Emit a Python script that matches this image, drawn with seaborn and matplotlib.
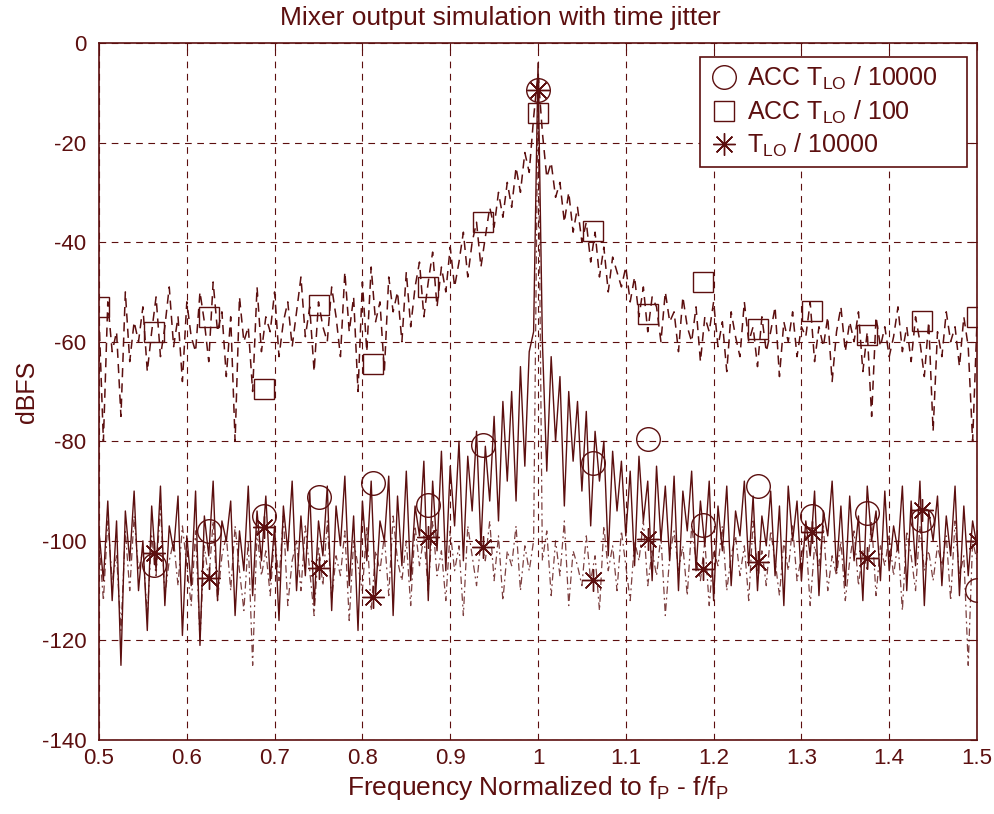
import numpy as np
import seaborn as sns
import matplotlib.pyplot as plt
from matplotlib.lines import Line2D

# frequency grid for the spectra (0.5 .. 1.5, step 0.005)
freq = np.linspace(0.5, 1.5, 201)

# ACC T_LO / 10000 (solid line)
acc_10000 = [
    -98, -108, -92, -112, -96, -125, -94, -104, -90, -110,
    -100, -118, -93, -106, -89, -113, -97, -102, -91, -119,
    -99, -109, -90, -121, -95, -103, -88, -112, -96, -100,
    -92, -115, -98, -106, -89, -111, -94, -104, -91, -108,
    -97, -116, -93, -102, -88, -110, -95, -107, -90, -113,
    -96, -103, -89, -114, -93, -101, -87, -109, -95, -118,
    -92, -104, -88, -111, -96, -100, -87, -115, -91, -105,
    -86, -108, -93, -99, -84, -112, -88, -102, -82, -106,
    -85, -97, -80, -104, -83, -94, -78, -101, -81, -92,
    -75, -96, -72, -88, -70, -92, -65, -85, -62, -58,
    -4,
    -60, -86, -63, -80, -67, -93, -70, -84, -72, -90,
    -74, -97, -78, -88, -80, -103, -82, -94, -84, -99,
    -86, -105, -83, -96, -88, -108, -85, -100, -89, -104,
    -87, -110, -90, -98, -86, -106, -92, -101, -88, -112,
    -93, -102, -89, -109, -94, -99, -88, -105, -91, -110,
    -95, -101, -90, -107, -93, -113, -89, -100, -92, -108,
    -96, -103, -90, -111, -94, -99, -88, -106, -93, -109,
    -91, -104, -95, -112, -89, -100, -94, -108, -90, -106,
    -97, -102, -89, -110, -92, -105, -88, -113, -94, -100,
    -91, -109, -95, -103, -89, -111, -93, -107, -96, -101,
]

# ACC T_LO / 100 (dashed line)
acc_100 = [
    -55, -80, -52, -62, -58, -75, -50, -64, -56, -60,
    -53, -66, -58, -51, -63, -57, -49, -61, -55, -68,
    -52, -59, -62, -50, -56, -64, -48, -58, -54, -67,
    -55, -80, -51, -60, -57, -70, -49, -62, -55, -58,
    -50, -63, -56, -52, -61, -54, -47, -59, -53, -66,
    -52, -57, -60, -49, -55, -63, -46, -58, -51, -70,
    -48, -62, -45, -56, -52, -66, -47, -54, -50, -60,
    -46, -57, -49, -44, -55, -48, -42, -53, -45, -50,
    -41, -49, -44, -38, -47, -40, -36, -45, -39, -33,
    -37, -30, -35, -28, -33, -25, -30, -22, -26, -15,
    -6,
    -18, -27, -24, -31, -28, -36, -30, -38, -33, -40,
    -36, -44, -38, -47, -41, -50, -43, -46, -49, -45,
    -52, -47, -55, -49, -58, -51, -53, -60, -50, -56,
    -54, -62, -51, -57, -60, -53, -64, -55, -58, -52,
    -61, -56, -66, -54, -59, -63, -52, -60, -57, -65,
    -55, -62, -58, -53, -67, -56, -60, -54, -63, -57,
    -59, -52, -64, -57, -61, -55, -68, -58, -53, -62,
    -56, -60, -54, -66, -58, -75, -55, -61, -57, -63,
    -59, -53, -62, -57, -64, -55, -60, -67, -56, -78,
    -58, -63, -54, -60, -57, -65, -55, -61, -80, -56,
]

# T_LO / 10000 (dash-dot line)
tlo_10000 = [
    -100, -112, -96, -108, -103, -118, -98, -110, -95, -106,
    -102, -115, -99, -107, -93, -111, -104, -100, -109, -97,
    -105, -113, -98, -120, -101, -108, -96, -112, -103, -99,
    -110, -97, -106, -114, -100, -125, -98, -107, -102, -111,
    -99, -108, -95, -113, -104, -100, -110, -97, -106, -115,
    -101, -109, -96, -112, -103, -107, -98, -116, -100, -105,
    -110, -97, -114, -102, -106, -99, -111, -95, -104, -108,
    -100, -113, -97, -105, -99, -110, -96, -107, -102, -112,
    -98, -106, -101, -115, -97, -103, -109, -100, -104, -96,
    -108, -99, -112, -102, -105, -97, -110, -101, -106, -100,
    -9,
    -104, -98, -111, -100, -107, -96, -113, -102, -105, -109,
    -99, -108, -103, -114, -97, -106, -101, -110, -98, -105,
    -112, -100, -104, -96, -109, -102, -107, -99, -115, -103,
    -98, -106, -101, -111, -97, -104, -108, -100, -113, -102,
    -105, -97, -110, -103, -99, -107, -101, -112, -96, -106,
    -102, -109, -98, -104, -111, -100, -106, -97, -108, -103,
    -99, -113, -101, -105, -97, -110, -103, -107, -100, -112,
    -104, -98, -109, -102, -106, -96, -111, -101, -105, -99,
    -107, -100, -114, -98, -103, -110, -97, -106, -102, -108,
    -101, -105, -99, -112, -96, -107, -103, -125, -100, -104,
]

# marker samples
sq_x = [0.5, 0.5625, 0.625, 0.6875, 0.75, 0.8125, 0.875, 0.9375, 1.0,
        1.0625, 1.125, 1.1875, 1.25, 1.3125, 1.375, 1.4375, 1.5]
sq_y = [-53, -58, -55, -69.5, -52.6, -64.5, -49, -36, -14,
        -37.7, -54.4, -48, -57.4, -53.8, -58.6, -55.8, -55]
circ_x = sq_x[1:]
circ_y = [-104.8, -98, -95, -91.2, -88.4, -92.8, -80.7, -9.4,
          -84.3, -79.5, -96.8, -89, -95, -94.4, -95.8, -109.8]
ast_x = sq_x[1:]
ast_y = [-102.4, -107.5, -97.2, -105.4, -111.2, -99.2, -101.2, -9.4,
         -107.8, -99.6, -105.6, -104.2, -98.2, -103.4, -93.8, -100]

col = '#5c0f0f'
sns.set_style('white')
plt.rcParams['font.family'] = ['Liberation Sans', 'DejaVu Sans']
plt.rcParams['mathtext.fontset'] = 'custom'
plt.rcParams['mathtext.rm'] = 'Liberation Sans'
plt.rcParams['mathtext.it'] = 'Liberation Sans'
plt.rcParams['axes.unicode_minus'] = False

fig = plt.figure(figsize=(9.94, 8.14), dpi=100)
ax = fig.add_axes([0.0996, 0.0909, 0.8833, 0.8563])

sns.lineplot(x=freq, y=acc_10000, ax=ax, color=col, lw=1.0, sort=False, estimator=None)
sns.lineplot(x=freq, y=acc_100, ax=ax, color=col, lw=1.1, sort=False, estimator=None)
ax.lines[-1].set_dashes([6, 4])
sns.lineplot(x=freq, y=tlo_10000, ax=ax, color=col, lw=0.9, sort=False, estimator=None, alpha=0.8)
ax.lines[-1].set_dashes([6, 3, 1.5, 3])

ax.plot(circ_x, circ_y, ls='none', marker='o', ms=17, mfc='none', mec=col, mew=1)
ax.plot(sq_x, sq_y, ls='none', marker='s', ms=15, mfc='none', mec=col, mew=1)
ax.plot(ast_x, ast_y, ls='none', marker=(8, 2, 0), ms=16, mfc='none', mec=col, mew=1)

ax.set_xlim(0.5, 1.5)
ax.set_ylim(-140, 0)
ax.set_xticks(np.arange(0.5, 1.51, 0.1))
ax.set_xticklabels(['0.5', '0.6', '0.7', '0.8', '0.9', '1', '1.1', '1.2', '1.3', '1.4', '1.5'])
ax.set_yticks(np.arange(-140, 1, 20))
ax.grid(True, color=col, ls=(0, (6, 5)), lw=0.8)
ax.tick_params(direction='in', length=5, color=col, labelcolor=col, labelsize=16,
               top=True, right=True, pad=9)
ax.tick_params(axis='x', pad=6)
for s in ax.spines.values():
    s.set_color(col)
    s.set_linewidth(1.2)

ax.set_title('Mixer output simulation with time jitter', color=col, fontsize=19, pad=13, x=0.457)
ax.set_xlabel('Frequency Normalized to f$_\\mathrm{P}$ - f/f$_\\mathrm{P}$', color=col, fontsize=19, labelpad=3)
ax.set_ylabel('dBFS', color=col, fontsize=18, labelpad=2)

handles = [
    Line2D([], [], ls='none', marker='o', ms=17, mfc='none', mec=col, mew=1),
    Line2D([], [], ls='none', marker='s', ms=15, mfc='none', mec=col, mew=1),
    Line2D([], [], ls='none', marker=(8, 2, 0), ms=16, mfc='none', mec=col, mew=1),
]
labels = ['ACC T$_\\mathrm{LO}$ / 10000    ', 'ACC T$_\\mathrm{LO}$ / 100', 'T$_\\mathrm{LO}$ / 10000']
leg = ax.legend(handles, labels, loc='upper right', bbox_to_anchor=(0.9975, 0.99), fontsize=18,
                frameon=True, fancybox=False, framealpha=1, edgecolor=col,
                handletextpad=0.3, labelspacing=0.25, borderpad=0.3, handlelength=1.3,
                borderaxespad=0.3, labelcolor=col)
leg.get_frame().set_linewidth(1.2)

fig.savefig('out.png', dpi=100)
